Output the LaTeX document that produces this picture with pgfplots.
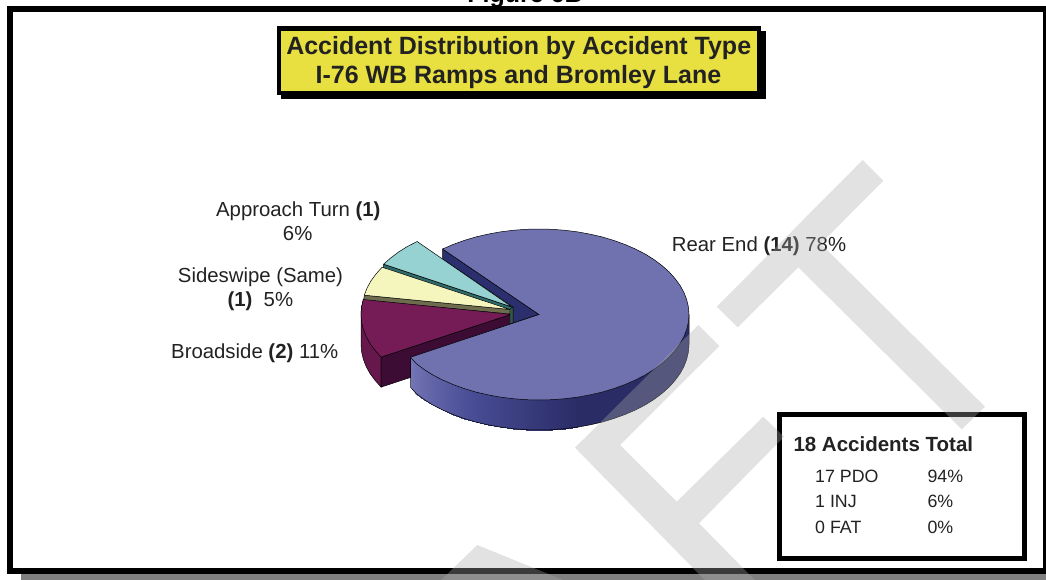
\documentclass[border=0pt]{standalone}
\usepackage{pgfplots}
\pgfplotsset{compat=1.18}
\usepackage{fontspec}
\setmainfont{Liberation Sans}
\definecolor{bigtop}{HTML}{7072AF}
\definecolor{sC}{HTML}{2A2C66}
\definecolor{navy}{HTML}{2C2F6E}
\definecolor{tealtop}{HTML}{96D2D2}
\definecolor{tealside}{HTML}{2E6A6A}
\definecolor{yeltop}{HTML}{F5F5BE}
\definecolor{yelside}{HTML}{6D6D4E}
\definecolor{martop}{HTML}{751C56}
\definecolor{marside}{HTML}{66174C}
\definecolor{marin}{HTML}{3C0C34}
\definecolor{titley}{HTML}{E8E040}
\definecolor{apexg}{HTML}{2F5A4A}
\definecolor{wm}{gray}{0.668}
\definecolor{txt}{HTML}{222222}
\newcommand\rect[5]{\addplot[fill=#5,draw=none] coordinates {(#1,#2)(#3,#2)(#3,#4)(#1,#4)} --cycle;}
\newcommand\lab[4]{\node[anchor=base #1,inner sep=0pt,text=txt] at (axis cs:#2,#3) {\fontsize{20.35pt}{24pt}\selectfont #4};}
\newcommand\boxt[4]{\node[anchor=base west,inner sep=0pt,text=txt] at (axis cs:#1,#2) {\fontsize{#3pt}{22pt}\selectfont #4};}
\begin{document}
\begin{tikzpicture}
\path[clip,use as bounding box] (0,0) rectangle (1046pt,580pt);
\begin{axis}[at={(0,0)},anchor=south west,scale only axis,width=1046pt,height=580pt,
  xmin=0,xmax=1046,ymin=0,ymax=580,y dir=reverse,axis lines=none,clip=true,
  colormap={side}{rgb255(0)=(116,118,182) rgb255(34)=(72,76,148) rgb255(75)=(42,44,102)},
  point meta min=0,point meta max=75]
\node[anchor=base,inner sep=0pt,text=black] at (axis cs:525,2.5) {\fontsize{25pt}{30pt}\selectfont\bfseries Figure 6B};
% frame
\rect{21}{574}{1046}{580}{black!50}
\rect{7}{6}{13}{574}{black}
\rect{7}{6}{1046}{12}{black}
\rect{7}{568}{1046}{574}{black}
\rect{1043}{6}{1045.5}{574}{black}
% title box
\rect{281}{31}{765.7}{99.3}{black}
\rect{276.7}{25.7}{761}{95}{black}
\rect{280.7}{30.7}{756.7}{90.7}{titley}
% back inner face of the big slice
\addplot[fill=navy,draw=black,line width=0.5pt] coordinates {(442.6,249)(442.6,259)(513,307)(513,323)(539,314.5)} --cycle;
% approach turn
\addplot[fill=tealside,draw=black,line width=0.4pt] coordinates {(383.6,264.2)(512,307)(512,311)(383,268.2)} --cycle;
\addplot[fill=tealtop,draw=black,line width=0.5pt] coordinates {(512,307)(417.1,241.5)(407.4,246.5)(398.6,252)(390.6,258)(383.6,264.2)} --cycle;
% sideswipe
\addplot[fill=yelside,draw=black,line width=0.4pt] coordinates {(510,309.5)(510,314)(363.6,300.5)(364.3,295.2)} --cycle;
\addplot[fill=yeltop,draw=black,line width=0.5pt] coordinates {(510,309.5)(382.1,267.2)(376.1,273.9)(371,280.8)(367.1,287.9)(364.3,295.2)} --cycle;
% broadside
\addplot[fill=marside,draw=black,line width=0.5pt] coordinates {(363.3,299.5)(361.6,306.8)(361,314.3)(361,344.3)(361.6,351.8)(363.3,359.1)(366.1,366.4)(370,373.5)(375.1,380.4)(381.1,387.1)(381.1,357.1)} --cycle;
\addplot[fill=marin,draw=black,line width=0.5pt] coordinates {(381.1,357.1)(381.1,387.1)(511,344.3)(511,314.3)} --cycle;
\addplot[fill=martop,draw=black,line width=0.5pt] coordinates {(511,314.3)(363.3,299.5)(361.6,306.8)(361,314.3)(361.6,321.8)(363.3,329.1)(366.1,336.4)(370,343.5)(375.1,350.4)(381.1,357.1)} --cycle;
\addplot[fill=apexg,draw=black,line width=0.4pt] coordinates {(510,309)(513,307)(513,323)(510,324)} --cycle;
% rear end: side
\addplot[fill=sC,draw=none] coordinates {(577.8,397.1)(590.3,394.8)(602.4,392)(614,388.5)(625,384.5)(635.4,380)(645.1,375)(653.9,369.5)(661.9,363.5)(668.9,357.3)(674.9,350.6)(680,343.7)(683.9,336.6)(686.7,329.3)(688.4,322)(689,314.5)(689,344.5)(688.4,352)(686.7,359.3)(683.9,366.6)(680,373.7)(674.9,380.6)(668.9,387.3)(661.9,393.5)(653.9,399.5)(645.1,405)(635.4,410)(625,414.5)(614,418.5)(602.4,422)(590.3,424.8)(577.8,427.1)} --cycle;
\addplot[patch,patch type=rectangle,shader=interp,point meta=explicit] table[meta=c] {
x y c
410.5 357.3 0
416.1 361 5
416.1 393.5 5
410.5 387.3 0
416.1 361 5
424.1 366 10
424.1 399.5 10
416.1 393.5 5
424.1 366 10
432.9 372 15
432.9 405 15
424.1 399.5 10
432.9 372 15
442.6 377 20
442.6 410 20
432.9 405 15
442.6 377 20
453 381 25
453 414.5 25
442.6 410 20
453 381 25
464 385 30
464 418.5 30
453 414.5 25
464 385 30
475.6 388 35
475.6 422 35
464 418.5 30
475.6 388 35
487.7 391 40
487.7 424.8 40
475.6 422 35
487.7 391 40
500.2 393 45
500.2 427.1 45
487.7 424.8 40
500.2 393 45
513 395 50
513 428.7 50
500.2 427.1 45
513 395 50
525.9 396 55
525.9 429.7 55
513 428.7 50
525.9 396 55
539 396 60
539 430 60
525.9 429.7 55
539 396 60
552.1 396 65
552.1 429.7 65
539 430 60
552.1 396 65
565 395 70
565 428.7 70
552.1 429.7 65
565 395 70
577.8 393 75
577.8 427.1 75
565 428.7 70
};
\addplot[draw=black,line width=0.5pt] coordinates {(410.5,357.3)(410.5,387.3)(416.1,393.5)(424.1,399.5)(432.9,405)(442.6,410)(453,414.5)(464,418.5)(475.6,422)(487.7,424.8)(500.2,427.1)(513,428.7)(525.9,429.7)(539,430)(552.1,429.7)(565,428.7)(577.8,427.1)(590.3,424.8)(602.4,422)(614,418.5)(625,414.5)(635.4,410)(645.1,405)(653.9,399.5)(661.9,393.5)(668.9,387.3)(674.9,380.6)(680,373.7)(683.9,366.6)(686.7,359.3)(688.4,352)(689,344.5)(689,314.5)};
% rear end: top
\addplot[fill=bigtop,draw=black,line width=0.5pt] coordinates {(539,314.5)(442.6,249)(453,244.5)(464,240.5)(475.6,237)(487.7,234.2)(500.2,231.9)(513,230.3)(525.9,229.3)(539,229)(552.1,229.3)(565,230.3)(577.8,231.9)(590.3,234.2)(602.4,237)(614,240.5)(625,244.5)(635.4,249)(645.1,254)(653.9,259.5)(661.9,265.5)(668.9,271.7)(674.9,278.4)(680,285.3)(683.9,292.4)(686.7,299.7)(688.4,307)(689,314.5)(688.4,322)(686.7,329.3)(683.9,336.6)(680,343.7)(674.9,350.6)(668.9,357.3)(661.9,363.5)(653.9,369.5)(645.1,375)(635.4,380)(625,384.5)(614,388.5)(602.4,392)(590.3,394.8)(577.8,397.1)(565,398.7)(552.1,399.7)(539,400)(525.9,399.7)(513,398.7)(500.2,397.1)(487.7,394.8)(475.6,392)(464,388.5)(453,384.5)(442.6,380)(432.9,375)(424.1,369.5)(416.1,363.5)(410.5,357.3)} --cycle;
% summary box
\addplot[fill=white,draw=black,line width=5pt] coordinates {(779.2,414.2)(1024.7,414.2)(1024.7,558.2)(779.2,558.2)} --cycle;
% texts
\node[anchor=base,inner sep=0pt,text=txt] at (axis cs:518.7,54.3) {\fontsize{25pt}{30pt}\selectfont\bfseries Accident Distribution by Accident Type};
\node[anchor=base,inner sep=0pt,text=txt] at (axis cs:518.4,83.3) {\fontsize{25pt}{30pt}\selectfont\bfseries I-76 WB Ramps and Bromley Lane};
\lab{west}{671.7}{251}{Rear End \textbf{(14)} 78\%}
\lab{}{298.3}{216.7}{Approach Turn \textbf{(1)}}
\lab{}{297.7}{240}{6\%}
\lab{}{260.5}{282.3}{Sideswipe (Same)}
\lab{}{260.3}{306.7}{\textbf{(1)}\ \ 5\%}
\lab{west}{171}{358.3}{Broadside \textbf{(2)} 11\%}
\boxt{793.3}{451}{20.5}{\bfseries 18 Accidents Total}
\boxt{815}{482.3}{17.8}{17 PDO}
\boxt{815}{507.7}{17.8}{1 INJ}
\boxt{815}{533.3}{17.8}{0 FAT}
\boxt{927.3}{482.3}{17.8}{94\%}
\boxt{927.3}{507.7}{17.8}{6\%}
\boxt{927.3}{533.3}{17.8}{0\%}
% DRAFT watermark
\addplot[fill=wm,draw=none,fill opacity=0.344] coordinates {(862.7,160)(883.3,180.7)(820.7,243.7)(985,406.7)(961.7,429.3)(798.3,267.3)(737.7,327.3)(716.7,306.7)} --cycle;
\addplot[fill=wm,draw=none,fill opacity=0.344] coordinates {(698.3,325)(719.3,346)(620,445)(676.7,501.7)(763.3,416.7)(784,436.7)(699,523.3)(756.7,582)(706.7,582)(575,447.7)} --cycle;
\addplot[fill=wm,draw=none,fill opacity=0.344] coordinates {(477.3,545)(568,582)(439,582)} --cycle;
\end{axis}
\end{tikzpicture}
\end{document}
